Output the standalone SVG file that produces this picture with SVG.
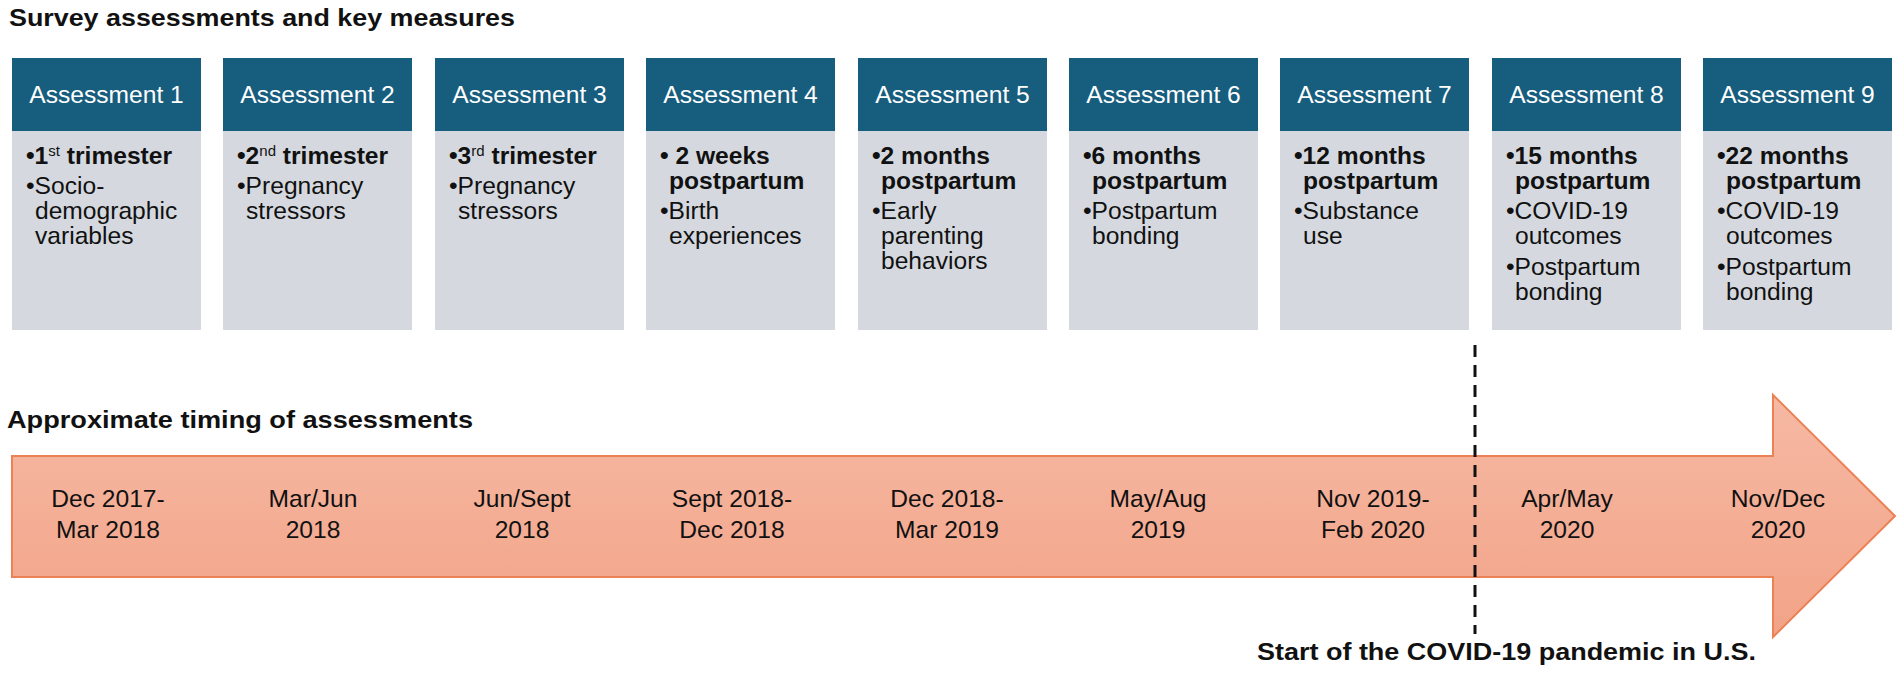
<svg xmlns="http://www.w3.org/2000/svg" width="1902" height="681" viewBox="0 0 1902 681">
<defs>
<linearGradient id="arrowFill" x1="0" y1="0" x2="0" y2="1">
<stop offset="0" stop-color="#f6b9a4"/>
<stop offset="1" stop-color="#f2a387"/>
</linearGradient>
</defs>
<style>
text{font-family:"Liberation Sans",Arial,sans-serif;fill:#111;}
.h{font-size:24px;font-weight:bold;}
.hd{fill:#175d7e;}
.bd{fill:#d5d9df;}
.ht{font-size:24.6px;fill:#fff;text-anchor:middle;}
.b{font-size:24.6px;font-weight:bold;}
.r{font-size:24.6px;}
.sup{font-size:15px;font-weight:normal;}
.dt{font-size:24.6px;text-anchor:middle;}
</style>
<rect width="1902" height="681" fill="#fff"/>
<text class="h" x="9" y="26" textLength="506" lengthAdjust="spacingAndGlyphs">Survey assessments and key measures</text>

<g id="assessment-1">
<rect class="hd" x="12" y="58" width="189" height="73"/>
<rect class="bd" x="12" y="131" width="189" height="199"/>
<text class="ht" x="106.5" y="103">Assessment 1</text>
<text class="b" x="26" y="164">•1<tspan class="sup" dy="-8">st</tspan><tspan dy="8"> trimester</tspan></text>
<text class="r" x="26" y="194">•Socio-</text>
<text class="r" x="35" y="219">demographic</text>
<text class="r" x="35" y="244">variables</text>
</g>

<g id="assessment-2">
<rect class="hd" x="223" y="58" width="189" height="73"/>
<rect class="bd" x="223" y="131" width="189" height="199"/>
<text class="ht" x="317.5" y="103">Assessment 2</text>
<text class="b" x="237" y="164">•2<tspan class="sup" dy="-8">nd</tspan><tspan dy="8"> trimester</tspan></text>
<text class="r" x="237" y="194">•Pregnancy</text>
<text class="r" x="246" y="219">stressors</text>
</g>

<g id="assessment-3">
<rect class="hd" x="435" y="58" width="189" height="73"/>
<rect class="bd" x="435" y="131" width="189" height="199"/>
<text class="ht" x="529.5" y="103">Assessment 3</text>
<text class="b" x="449" y="164">•3<tspan class="sup" dy="-8">rd</tspan><tspan dy="8"> trimester</tspan></text>
<text class="r" x="449" y="194">•Pregnancy</text>
<text class="r" x="458" y="219">stressors</text>
</g>

<g id="assessment-4">
<rect class="hd" x="646" y="58" width="189" height="73"/>
<rect class="bd" x="646" y="131" width="189" height="199"/>
<text class="ht" x="740.5" y="103">Assessment 4</text>
<text class="b" x="660" y="164">• 2 weeks</text>
<text class="b" x="669" y="189">postpartum</text>
<text class="r" x="660" y="219">•Birth</text>
<text class="r" x="669" y="244">experiences</text>
</g>

<g id="assessment-5">
<rect class="hd" x="858" y="58" width="189" height="73"/>
<rect class="bd" x="858" y="131" width="189" height="199"/>
<text class="ht" x="952.5" y="103">Assessment 5</text>
<text class="b" x="872" y="164">•2 months</text>
<text class="b" x="881" y="189">postpartum</text>
<text class="r" x="872" y="219">•Early</text>
<text class="r" x="881" y="244">parenting</text>
<text class="r" x="881" y="269">behaviors</text>
</g>

<g id="assessment-6">
<rect class="hd" x="1069" y="58" width="189" height="73"/>
<rect class="bd" x="1069" y="131" width="189" height="199"/>
<text class="ht" x="1163.5" y="103">Assessment 6</text>
<text class="b" x="1083" y="164">•6 months</text>
<text class="b" x="1092" y="189">postpartum</text>
<text class="r" x="1083" y="219">•Postpartum</text>
<text class="r" x="1092" y="244">bonding</text>
</g>

<g id="assessment-7">
<rect class="hd" x="1280" y="58" width="189" height="73"/>
<rect class="bd" x="1280" y="131" width="189" height="199"/>
<text class="ht" x="1374.5" y="103">Assessment 7</text>
<text class="b" x="1294" y="164">•12 months</text>
<text class="b" x="1303" y="189">postpartum</text>
<text class="r" x="1294" y="219">•Substance</text>
<text class="r" x="1303" y="244">use</text>
</g>

<g id="assessment-8">
<rect class="hd" x="1492" y="58" width="189" height="73"/>
<rect class="bd" x="1492" y="131" width="189" height="199"/>
<text class="ht" x="1586.5" y="103">Assessment 8</text>
<text class="b" x="1506" y="164">•15 months</text>
<text class="b" x="1515" y="189">postpartum</text>
<text class="r" x="1506" y="219">•COVID-19</text>
<text class="r" x="1515" y="244">outcomes</text>
<text class="r" x="1506" y="275">•Postpartum</text>
<text class="r" x="1515" y="300">bonding</text>
</g>

<g id="assessment-9">
<rect class="hd" x="1703" y="58" width="189" height="73"/>
<rect class="bd" x="1703" y="131" width="189" height="199"/>
<text class="ht" x="1797.5" y="103">Assessment 9</text>
<text class="b" x="1717" y="164">•22 months</text>
<text class="b" x="1726" y="189">postpartum</text>
<text class="r" x="1717" y="219">•COVID-19</text>
<text class="r" x="1726" y="244">outcomes</text>
<text class="r" x="1717" y="275">•Postpartum</text>
<text class="r" x="1726" y="300">bonding</text>
</g>

<text class="h" x="7" y="428" textLength="466" lengthAdjust="spacingAndGlyphs">Approximate timing of assessments</text>

<g id="timeline">
<polygon points="12,456 1773,456 1773,395 1895,516 1773,637 1773,577 12,577" fill="url(#arrowFill)" stroke="#ec8155" stroke-width="2"/>
<text class="dt" x="108" y="507">Dec 2017-</text>
<text class="dt" x="108" y="538">Mar 2018</text>
<text class="dt" x="313" y="507">Mar/Jun</text>
<text class="dt" x="313" y="538">2018</text>
<text class="dt" x="522" y="507">Jun/Sept</text>
<text class="dt" x="522" y="538">2018</text>
<text class="dt" x="732" y="507">Sept 2018-</text>
<text class="dt" x="732" y="538">Dec 2018</text>
<text class="dt" x="947" y="507">Dec 2018-</text>
<text class="dt" x="947" y="538">Mar 2019</text>
<text class="dt" x="1158" y="507">May/Aug</text>
<text class="dt" x="1158" y="538">2019</text>
<text class="dt" x="1373" y="507">Nov 2019-</text>
<text class="dt" x="1373" y="538">Feb 2020</text>
<text class="dt" x="1567" y="507">Apr/May</text>
<text class="dt" x="1567" y="538">2020</text>
<text class="dt" x="1778" y="507">Nov/Dec</text>
<text class="dt" x="1778" y="538">2020</text>
</g>

<g id="connectors">
<line x1="1475" y1="345" x2="1475" y2="634" stroke="#111" stroke-width="3" stroke-dasharray="12 8"/>
</g>

<g id="covid-label">
<text class="h" x="1257" y="660" textLength="499" lengthAdjust="spacingAndGlyphs">Start of the COVID-19 pandemic in U.S.</text>
</g>
</svg>
